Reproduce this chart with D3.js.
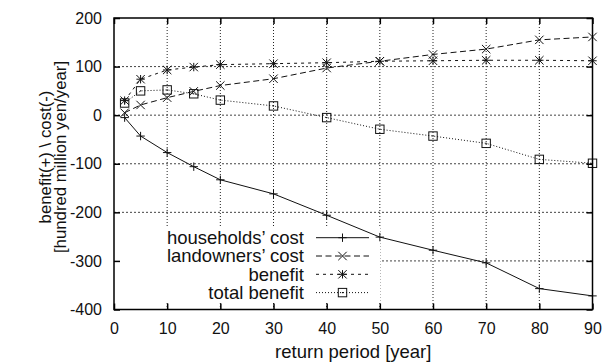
<!DOCTYPE html>
<html>
<head>
<meta charset="utf-8">
<script src="https://cdn.jsdelivr.net/npm/d3@7"></script>
<style>
  body { margin: 0; background: #fff; }
  text { font-family: "Liberation Sans", Arial, sans-serif; fill: #111; }
</style>
</head>
<body>
<svg id="chart" width="607" height="364"></svg>
<script>
// return period [year]
const periods = [2, 5, 10, 15, 20, 30, 40, 50, 60, 70, 80, 90];
const households = [-5, -43, -77, -106, -133, -162, -206, -251, -278, -304, -357, -372];
const landowners = [5, 21, 36, 49, 61, 75, 97, 111, 125, 136, 155, 161];
const benefit = [30, 74, 93, 99, 104, 106, 108, 111, 112, 113, 113, 112];
const totalBenefit = [25, 50, 52, 44, 31, 19, -5, -29, -43, -58, -91, -99];
const xTicks = [0, 10, 20, 30, 40, 50, 60, 70, 80, 90];
const yTicks = [200, 100, 0, -100, -200, -300, -400];

const series = [
  { name: "households\u2019 cost", values: households, dash: null, mark: "plus" },
  { name: "landowners\u2019 cost", values: landowners, dash: "6,3.5", mark: "cross" },
  { name: "benefit", values: benefit, dash: "3,4", mark: "star" },
  { name: "total benefit", values: totalBenefit, dash: "1,2", mark: "box" },
];

const svg = d3.select("#chart");
const margin = { top: 18, right: 14.5, bottom: 54.5, left: 114 };
const width = 607 - margin.left - margin.right;
const height = 364 - margin.top - margin.bottom;

const x = d3.scaleLinear().domain([0, 90]).range([0, width]);
const y = d3.scaleLinear().domain([-400, 200]).range([height, 0]);

const g = svg.append("g").attr("transform", `translate(${margin.left},${margin.top})`);

// grid
g.selectAll(".gx").data(xTicks.slice(1, -1)).enter().append("line")
  .attr("x1", d => x(d)).attr("x2", d => x(d)).attr("y1", 0).attr("y2", height)
  .attr("stroke", "#222").attr("stroke-width", 1).attr("stroke-dasharray", "1,2");
g.selectAll(".gy").data(yTicks.slice(1, -1)).enter().append("line")
  .attr("x1", 0).attr("x2", width).attr("y1", d => y(d)).attr("y2", d => y(d))
  .attr("stroke", "#444").attr("stroke-width", 1).attr("stroke-dasharray", "2,2");

// legend background (opaque key)
g.append("rect").attr("x", 0).attr("y", 209).attr("width", 266).attr("height", 75).attr("fill", "#fff");

// axes with mirrored inward ticks
const fmt = d => String(d);
const axB = d3.axisBottom(x).tickValues(xTicks).tickSize(-6).tickPadding(13).tickFormat(fmt);
const axT = d3.axisTop(x).tickValues(xTicks).tickSize(-6).tickFormat("");
const axL = d3.axisLeft(y).tickValues(yTicks).tickSize(-6).tickPadding(12).tickFormat(fmt);
const axR = d3.axisRight(y).tickValues(yTicks).tickSize(-6).tickFormat("");

function style(sel) {
  sel.select(".domain").remove();
  sel.selectAll(".tick line").attr("stroke", "#000").attr("stroke-width", 1.5);
  sel.selectAll(".tick text").style("font-size", "16px").attr("fill", "#111");
}
g.append("g").attr("transform", `translate(0,${height})`).call(axB).call(style);
g.append("g").call(axT).call(style);
g.append("g").call(axL).call(style);
g.append("g").attr("transform", `translate(${width},0)`).call(axR).call(style);

function marker(sel, type) {
  const s = 4.2;
  if (type === "plus" || type === "star") {
    sel.append("path").attr("d", `M${-s},0H${s}M0,${-s}V${s}`);
  }
  if (type === "cross" || type === "star") {
    sel.append("path").attr("d", `M${-s},${-s}L${s},${s}M${-s},${s}L${s},${-s}`);
  }
  if (type === "box") {
    sel.append("rect").attr("x", -s).attr("y", -s).attr("width", 2 * s).attr("height", 2 * s).attr("fill", "none");
    sel.append("rect").attr("x", -0.6).attr("y", -0.6).attr("width", 1.2).attr("height", 1.2).attr("fill", "#111").attr("stroke", "none");
  }
}

const line = d3.line().x(d => x(d[0])).y(d => y(d[1]));

series.forEach(s => {
  const pts = periods.map((p, i) => [p, s.values[i]]);
  g.append("path").datum(pts)
    .attr("fill", "none").attr("stroke", "#111").attr("stroke-width", 1)
    .attr("stroke-dasharray", s.dash).attr("d", line);
  g.selectAll(null).data(pts).enter().append("g")
    .attr("transform", d => `translate(${x(d[0])},${y(d[1])})`)
    .attr("stroke", "#111").attr("stroke-width", 1)
    .each(function () { marker(d3.select(this), s.mark); });
});

// border
g.append("rect").attr("width", width).attr("height", height)
  .attr("fill", "none").attr("stroke", "#000").attr("stroke-width", 1.5);

// legend
const leg = g.append("g").attr("transform", "translate(0,219.7)");
series.forEach((s, i) => {
  const row = leg.append("g").attr("transform", `translate(0,${i * 18.3})`);
  row.append("text").attr("x", 190).attr("y", 0).attr("dy", "0.35em")
    .attr("text-anchor", "end").style("font-size", "18.5px").text(s.name);
  row.append("line").attr("x1", 202).attr("x2", 255).attr("y1", 0).attr("y2", 0)
    .attr("stroke", "#111").attr("stroke-width", 1).attr("stroke-dasharray", s.dash);
  row.append("g").attr("transform", "translate(228.5,0)")
    .attr("stroke", "#111").attr("stroke-width", 1)
    .call(sel => marker(sel, s.mark));
});

// axis titles
svg.append("text").attr("x", margin.left + width / 2).attr("y", 357.5)
  .attr("text-anchor", "middle").style("font-size", "18.5px").text("return period [year]");
const yt = svg.append("text").attr("transform", "translate(51,157) rotate(-90)")
  .attr("text-anchor", "middle").style("font-size", "16.8px");
yt.append("tspan").attr("x", 0).attr("dy", "0").text("benefit(+) \\ cost(-)");
yt.append("tspan").attr("x", 0).attr("dy", "0.92em").text("[hundred million yen/year]");
</script>
</body>
</html>
